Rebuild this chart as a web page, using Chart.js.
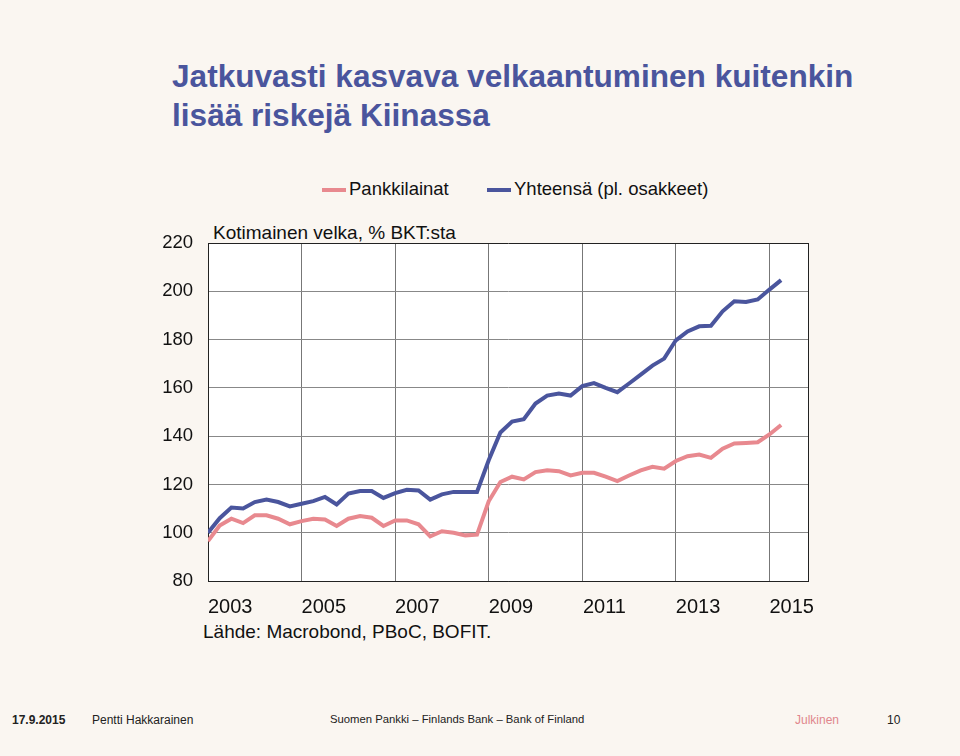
<!DOCTYPE html>
<html lang="fi">
<head>
    <meta charset="UTF-8">
    <title>Kiina velka</title>
    <script src="https://cdn.jsdelivr.net/npm/chart.js"></script>
    <style>
        body { margin: 0; width: 960px; height: 756px; background: #faf6f1; font-family: "Liberation Sans", Arial, sans-serif; position: relative; overflow: hidden; }
        #c { position: absolute; left: 0; top: 0; }
        .t { position: absolute; white-space: nowrap; }
        h1 { position: absolute; left: 172px; top: 57px; margin: 0; font-size: 31.6px; line-height: 39px; color: #4a559d; font-weight: bold; }
        .leg { top: 178px; font-size: 18.5px; color: #111; }
        .sw { display: inline-block; width: 24px; height: 4px; vertical-align: middle; margin-right: 3px; }
        .foot { top: 713px; font-size: 12px; color: #222; }
    </style>
</head>
<body>
    <h1>Jatkuvasti kasvava velkaantuminen kuitenkin<br>lisää riskejä Kiinassa</h1>
    <div class="t leg" style="left:322px"><span class="sw" style="background:#e8898f"></span>Pankkilainat</div>
    <div class="t leg" style="left:487px"><span class="sw" style="background:#4a559d"></span>Yhteensä (pl. osakkeet)</div>
    <div class="t" style="left:213px;top:222px;font-size:19px;color:#111">Kotimainen velka, % BKT:sta</div>
    <div class="t" style="left:203px;top:621px;font-size:19px;color:#111">Lähde: Macrobond, PBoC, BOFIT.</div>
    <div class="t foot" style="left:12px;font-weight:bold">17.9.2015</div>
    <div class="t foot" style="left:92px">Pentti Hakkarainen</div>
    <div class="t foot" style="left:330px;font-size:11.3px">Suomen Pankki – Finlands Bank – Bank of Finland</div>
    <div class="t foot" style="left:795px;color:#e0868d">Julkinen</div>
    <div class="t foot" style="left:887px">10</div>
    <canvas id="c" width="960" height="756"></canvas>

    <script>
        // quarterly, 2002Q1 ... 2014Q2
        const bankLoans = [96.5, 103, 105.8, 104, 107.2, 107.2, 105.8, 103.5, 104.8, 105.8, 105.5, 102.8,
            105.8, 106.9, 106.2, 102.8, 105.1, 105.1, 103.5, 98.5, 100.6, 100, 98.9, 99.2,
            113, 121, 123.2, 122.1, 125.1, 125.9, 125.5, 123.7, 124.8, 124.8, 123.2, 121.4,
            123.7, 125.8, 127.3, 126.5, 129.7, 131.7, 132.4, 131, 134.8, 137, 137.2, 137.5, 140.7, 144.6];
        const totalDebt = [100, 106, 110.4, 110, 112.7, 113.7, 112.7, 110.9, 112, 113.1, 114.8, 111.7,
            116.2, 117.3, 117.3, 114.4, 116.4, 117.8, 117.5, 113.7, 115.9, 116.9, 116.9, 116.9,
            130, 141.5, 146, 147, 153.5, 156.8, 157.7, 156.8, 160.7, 162, 160, 158.2,
            161.8, 165.5, 169.2, 172.1, 179.7, 183.4, 185.5, 185.7, 191.7, 195.9, 195.6, 196.6, 200.7, 204.6];
        const yearLabels = ['2003', '2005', '2007', '2009', '2011', '2013', '2015'];
        const yTicks = [80, 100, 120, 140, 160, 180, 200, 220];

        const toXY = arr => arr.map((v, i) => ({ x: i, y: v }));

        const areaFill = {
            id: 'areaFill',
            beforeDraw(chart) {
                const a = chart.chartArea, ctx = chart.ctx;
                ctx.save();
                ctx.fillStyle = '#ffffff';
                ctx.fillRect(a.left, a.top, a.right - a.left, a.bottom - a.top);
                ctx.restore();
            }
        };

        new Chart(document.getElementById('c'), {
            type: 'line',
            data: {
                datasets: [
                    { label: 'Pankkilainat', data: toXY(bankLoans), borderColor: '#e8898f', borderWidth: 4, pointRadius: 0, tension: 0 },
                    { label: 'Yhteensä (pl. osakkeet)', data: toXY(totalDebt), borderColor: '#4a559d', borderWidth: 4, pointRadius: 0, tension: 0 },
                ],
            },
            options: {
                responsive: false,
                animation: false,
                layout: { padding: { left: 148, right: 152, top: 243, bottom: 135 } },
                plugins: { legend: { display: false }, tooltip: { enabled: false } },
                scales: {
                    x: {
                        type: 'linear', min: 0, max: 51.3,
                        afterBuildTicks: s => { s.ticks = [0, 8, 16, 24, 32, 40, 48].map(v => ({ value: v })); },
                        ticks: { display: false },
                        grid: { color: '#777', lineWidth: 1, drawTicks: false },
                        border: { color: '#222', width: 1 },
                    },
                    xl: {
                        type: 'linear', position: 'bottom', min: 0, max: 51.3,
                        afterBuildTicks: s => { s.ticks = yearLabels.map((_, i) => ({ value: 1.9 + 8 * i })); },
                        afterFit: s => { s.height = 40; },
                        ticks: {
                            autoSkip: false, maxRotation: 0, padding: 6,
                            font: { family: 'Liberation Sans', size: 20 }, color: '#111',
                            callback: (v, i) => yearLabels[i],
                        },
                        grid: { display: false },
                        border: { display: false },
                    },
                    y: {
                        min: 80, max: 220,
                        afterBuildTicks: s => { s.ticks = yTicks.map(v => ({ value: v })); },
                        afterFit: s => { s.width = 60; },
                        ticks: { padding: 15, font: { family: 'Liberation Sans', size: 18.5 }, color: '#111' },
                        grid: { color: ctx => (ctx.tick.value === 220 || ctx.tick.value === 80) ? '#222' : '#888', drawTicks: false },
                        border: { color: '#222', width: 1 },
                    },
                    yr: {
                        position: 'right', min: 80, max: 220,
                        afterFit: s => { s.width = 0; },
                        ticks: { display: false },
                        grid: { display: false },
                        border: { color: '#222', width: 1 },
                    },
                },
            },
            plugins: [areaFill],
        });
    </script>
</body>
</html>
